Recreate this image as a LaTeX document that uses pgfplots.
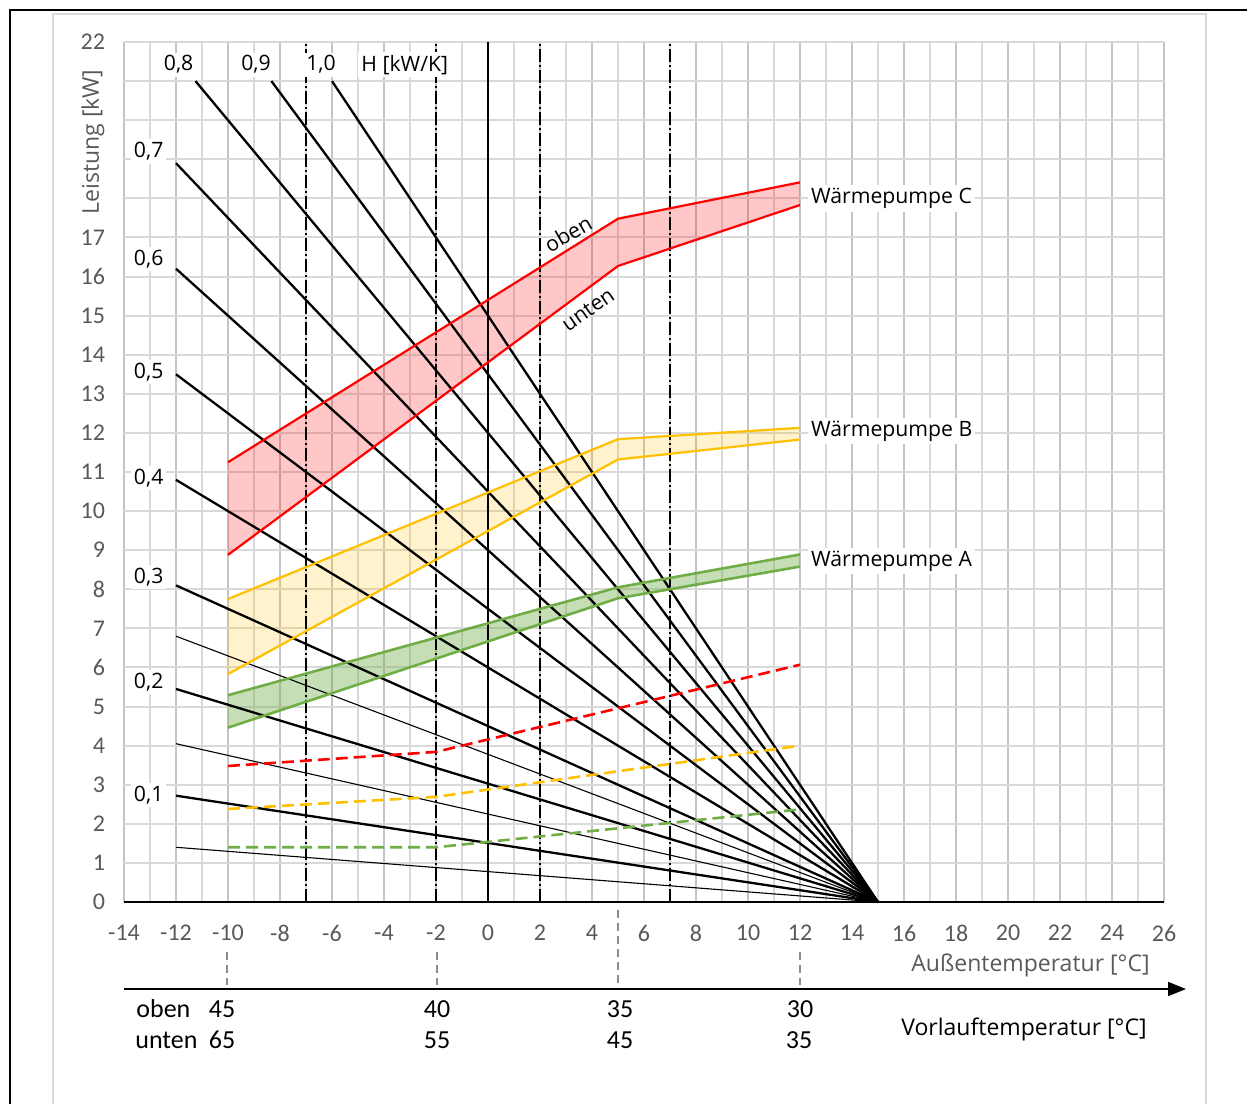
\documentclass[border=0pt]{standalone}
\usepackage{fontspec}
\setmainfont{Open Sans}
\newfontfamily\calibri{Carlito}
\usepackage{pgfplots}
\pgfplotsset{compat=1.18}
\usetikzlibrary{arrows.meta}
\definecolor{wpred}{HTML}{FF0000}
\definecolor{wpyel}{HTML}{FFC000}
\definecolor{wpgrn}{HTML}{70AD47}
\definecolor{tickgray}{HTML}{595959}
\definecolor{gridlight}{HTML}{D9D9D9}
\definecolor{griddark}{HTML}{C4C4C4}
\newcommand\lbl{\fontsize{10.6}{12}\selectfont}
\newcommand\biglbl{\fontsize{11.5}{13}\selectfont}
\begin{document}
\begin{tikzpicture}
\useasboundingbox (0,0) rectangle (623.5pt,-551.5pt);
\begin{axis}[
  at={(62pt,-451pt)}, anchor=south west,
  scale only axis, width=520pt, height=430pt,
  xmin=-14, xmax=26, ymin=0, ymax=22,
  xtick={-14,-12,...,26}, minor xtick={-13,-11,...,25},
  xticklabels={-14,-12,-10,-8,-6,-4,-2,0,2,4,6,8,10,12,14,16,18,20,22,24,26},
  ytick={0,1,...,22},
  yticklabels={0,1,2,3,4,5,6,7,8,9,10,11,12,13,14,15,16,17,,,,,22},
  grid=both,
  major x grid style={draw=griddark, line width=0.6pt},
  minor x grid style={draw=gridlight, line width=0.8pt},
  major y grid style={draw=gridlight, line width=1pt},
  axis line style={draw=none},
  major tick length=0pt, minor tick length=0pt,
  tick label style={font=\calibri\fontsize{12}{14}\selectfont, text=tickgray},
  /pgf/number format/assume math mode=true,
  xticklabel style={yshift=-8pt},
  yticklabel style={xshift=-6pt},
  clip=false,
]
% bands
\addplot[draw=none, fill=wpred, fill opacity=0.22] coordinates {(-10,11.25) (5,17.48) (12,18.41) (12,17.83) (5,16.27) (-10,8.88)} -- cycle;
\addplot[draw=none, fill=wpyel, fill opacity=0.2] coordinates {(-10,7.75) (5,11.84) (12,12.13) (12,11.83) (5,11.32) (-10,5.83)} -- cycle;
\addplot[draw=none, fill=wpgrn, fill opacity=0.4] coordinates {(-10,5.29) (5,8.05) (12,8.89) (12,8.58) (5,7.77) (-10,4.46)} -- cycle;
% heat load lines
\addplot[black, line width=0.55pt] coordinates {(-12,1.40) (15,0)};
\addplot[black, line width=1.15pt] coordinates {(-12,2.72) (15,0)};
\addplot[black, line width=0.55pt] coordinates {(-12,4.05) (15,0)};
\addplot[black, line width=1.15pt] coordinates {(-12,5.45) (15,0)};
\addplot[black, line width=0.55pt] coordinates {(-12,6.8) (15,0)};
\addplot[black, line width=1.15pt] coordinates {(-12,8.1) (15,0)};
\addplot[black, line width=1.15pt] coordinates {(-12,10.8) (15,0)};
\addplot[black, line width=1.15pt] coordinates {(-12,13.5) (15,0)};
\addplot[black, line width=1.15pt] coordinates {(-12,16.2) (15,0)};
\addplot[black, line width=1.15pt] coordinates {(-12,18.9) (15,0)};
\addplot[black, line width=1.15pt] coordinates {(-11.25,21) (15,0)};
\addplot[black, line width=1.15pt] coordinates {(-8.33,21) (15,0)};
\addplot[black, line width=1.15pt] coordinates {(-6,21) (15,0)};
% vertical lines
\addplot[black, line width=1pt] coordinates {(0,0) (0,22)};
\addplot[black, line width=0.9pt, dash pattern=on 6.5pt off 1.5pt on 1pt off 1.5pt] coordinates {(-7,0) (-7,22)};
\addplot[black, line width=0.9pt, dash pattern=on 6.5pt off 1.5pt on 1pt off 1.5pt] coordinates {(-2,0) (-2,22)};
\addplot[black, line width=0.9pt, dash pattern=on 6.5pt off 1.5pt on 1pt off 1.5pt] coordinates {(2,0) (2,22)};
\addplot[black, line width=0.9pt, dash pattern=on 6.5pt off 1.5pt on 1pt off 1.5pt] coordinates {(7,0) (7,22)};
% band edges
\addplot[wpred, line width=1.1pt] coordinates {(-10,11.25) (5,17.48) (12,18.41)};
\addplot[wpred, line width=1.1pt] coordinates {(-10,8.88) (5,16.27) (12,17.83)};
\addplot[wpyel, line width=1.1pt] coordinates {(-10,7.75) (5,11.84) (12,12.13)};
\addplot[wpyel, line width=1.1pt] coordinates {(-10,5.83) (5,11.32) (12,11.83)};
\addplot[wpgrn, line width=1.3pt] coordinates {(-10,5.29) (5,8.05) (12,8.89)};
\addplot[wpgrn, line width=1.3pt] coordinates {(-10,4.46) (5,7.77) (12,8.58)};
% dashed
\addplot[wpred, line width=1.3pt, dash pattern=on 6pt off 3pt] coordinates {(-10,3.48) (-2,3.84) (12,6.07)};
\addplot[wpyel, line width=1.3pt, dash pattern=on 6pt off 3pt] coordinates {(-10,2.38) (-2,2.69) (12,4.0)};
\addplot[wpgrn, line width=1.3pt, dash pattern=on 6pt off 3pt] coordinates {(-10,1.40) (-2,1.40) (12,2.37)};
% bottom axis line
\draw[black, line width=1.2pt] (axis cs:-14,0) -- (axis cs:26,0);
% labels
\begin{scope}[every node/.style={font=\lbl, fill=white, inner sep=1.5pt}]
\node at (axis cs:-11.9,21.42) {0,8};
\node at (axis cs:-8.92,21.42) {0,9};
\node at (axis cs:-6.42,21.42) {1,0};
\node at (axis cs:-3.2,21.42) {H [kW/K]};
\node at (axis cs:-13.05,19.2) {0,7};
\node at (axis cs:-13.05,16.45) {0,6};
\node at (axis cs:-13.05,13.55) {0,5};
\node at (axis cs:-13.05,10.84) {0,4};
\node at (axis cs:-13.05,8.31) {0,3};
\node at (axis cs:-13.05,5.63) {0,2};
\node at (axis cs:-13.05,2.74) {0,1};
\node[anchor=west] at (axis cs:12.3,18.0) {Wärmepumpe C};
\node[anchor=west] at (axis cs:12.3,12.05) {Wärmepumpe B};
\node[anchor=west] at (axis cs:12.3,8.72) {Wärmepumpe A};
\end{scope}
\node[font=\lbl, rotate=30, inner sep=0pt] at (axis cs:3.08,17.1) {oben};
\node[font=\lbl, rotate=35, inner sep=0pt] at (axis cs:3.85,15.15) {unten};
\end{axis}
\begin{scope}[x=0.5pt, y=-0.5pt]
\draw[black, line width=1.3pt] (10,1120) -- (10,10) -- (1260,10);
\draw[gridlight, line width=0.9pt] (53,1120) -- (53,14) -- (1206,14) -- (1206,1120);
\draw[black!45, line width=0.7pt, dash pattern=on 4pt off 2.5pt] (227,952) -- (227,985);
\draw[black!45, line width=0.7pt, dash pattern=on 4pt off 2.5pt] (437,952) -- (437,985);
\draw[black!45, line width=0.7pt, dash pattern=on 4pt off 2.5pt] (618,910) -- (618,985);
\draw[black!45, line width=0.7pt, dash pattern=on 4pt off 2.5pt] (800,952) -- (800,985);
\draw[black, line width=0.8pt, -{Triangle[length=9pt,width=7pt]}] (124,989) -- (1186,989);
\begin{scope}[every node/.style={font=\calibri\fontsize{13}{15}\selectfont, inner sep=0pt}]
\node[anchor=west] at (136,1009) {oben};
\node[anchor=west] at (135,1040) {unten};
\node at (222,1009) {45};
\node at (222,1040) {65};
\node at (437,1009) {40};
\node at (437,1040) {55};
\node at (620,1009) {35};
\node at (620,1040) {45};
\node at (800,1009) {30};
\node at (799,1040) {35};
\end{scope}
\node[font=\biglbl] at (1024,1029) {Vorlauftemperatur [°C]};
\node[font=\biglbl, text=tickgray, anchor=east, inner sep=0pt] at (1150,965) {Außentemperatur [°C]};
\node[font=\biglbl, text=tickgray, rotate=90] at (93,142) {Leistung [kW]};
\end{scope}
\end{tikzpicture}
\end{document}
